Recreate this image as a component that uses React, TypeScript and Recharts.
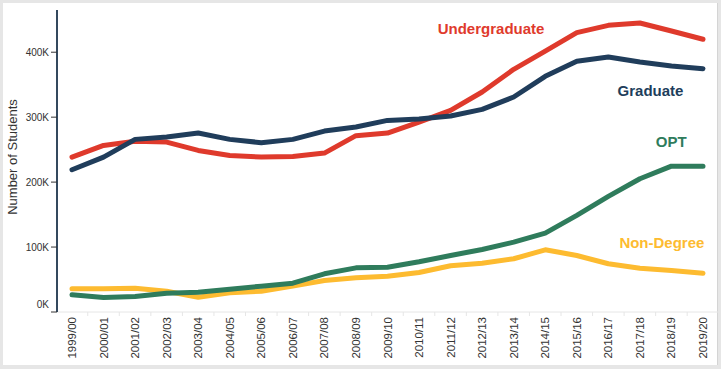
import { LineChart, Line, XAxis, YAxis } from "recharts";

const years = [
  "1999/00", "2000/01", "2001/02", "2002/03", "2003/04", "2004/05", "2005/06",
  "2006/07", "2007/08", "2008/09", "2009/10", "2010/11", "2011/12", "2012/13",
  "2013/14", "2014/15", "2015/16", "2016/17", "2017/18", "2018/19", "2019/20",
];

// values in students
const undergraduate = [
  238500, 256500, 263000, 261600, 248800, 241000, 238500, 239600, 244700, 271500,
  275500, 292400, 310500, 338700, 373700, 401800, 430200, 441400, 445000, 432700, 419900,
];
const graduate = [
  219000, 238500, 265800, 269300, 275500, 265800, 260700, 265800, 278600, 284800,
  295000, 297000, 301700, 312000, 331000, 362900, 386000, 392700, 385000, 378700, 374700,
];
const opt = [
  26500, 22300, 23900, 29000, 30500, 35100, 39800, 44400, 58800, 68000,
  69000, 77300, 87000, 96300, 107600, 121400, 148700, 178000, 205200, 224600, 224600,
];
const nonDegree = [
  35700, 35700, 36700, 32000, 22800, 29600, 32000, 39800, 48500, 52700,
  55200, 60900, 71200, 75200, 82000, 95800, 87000, 74300, 67500, 64000, 59800,
];

const yTicks = [0, 100000, 200000, 300000, 400000];

const data = years.map((year, i) => ({
  year,
  undergraduate: undergraduate[i],
  graduate: graduate[i],
  opt: opt[i],
  nonDegree: nonDegree[i],
}));

const FONT = "'Liberation Sans', Arial, sans-serif";
const RED = "#df3a2c";
const NAVY = "#203d5b";
const GREEN = "#2f7c5c";
const YELLOW = "#fdbb30";

const HALF_STEP = 15.8;

function XTick({ x, y, payload, index }: any) {
  return (
    <g>
      {index > 0 && (
        <line
          x1={x - HALF_STEP}
          x2={x - HALF_STEP}
          y1={y - 4}
          y2={y}
          stroke="#e6e6e6"
        />
      )}
      <text
        x={x}
        y={y + 1}
        transform={`rotate(-90 ${x} ${y + 1})`}
        textAnchor="end"
        dominantBaseline="central"
        fontSize={11.5}
        fontFamily={FONT}
        fill="#333"
      >
        {payload.value}
      </text>
    </g>
  );
}

function YTick({ x, y, payload }: any) {
  return (
    <text
      x={x}
      y={payload.value === 0 ? y - 8 : y}
      textAnchor="end"
      dominantBaseline="central"
      fontSize={10}
      fontFamily={FONT}
      fill="#333"
    >
      {`${payload.value / 1000}K`}
    </text>
  );
}

function endLabel(text: string, color: string, dx: number, dy: number) {
  return (props: any) => {
    if (props.index !== years.length - 1) return null;
    return (
      <text
        x={props.x + dx}
        y={props.y + dy}
        textAnchor="end"
        fontSize={15}
        fontWeight="bold"
        fontFamily={FONT}
        fill={color}
      >
        {text}
      </text>
    );
  };
}

function YLabel({ viewBox }: any) {
  const cx = viewBox.x + 12;
  const cy = viewBox.y + viewBox.height / 2 - 4;
  return (
    <text
      x={cx}
      y={cy}
      transform={`rotate(-90 ${cx} ${cy})`}
      textAnchor="middle"
      dominantBaseline="central"
      fontSize={13}
      fontFamily={FONT}
      fill="#333"
    >
      Number of Students
    </text>
  );
}

export default function App() {
  return (
    <div
      style={{
        position: "absolute",
        left: 0,
        top: 0,
        width: 721,
        height: 369,
        background: "#e6e6e6",
      }}
    >
      <div
        style={{
          position: "absolute",
          left: 3,
          top: 3,
          width: 715,
          height: 362,
          background: "#fff",
          borderRight: "1px solid #d4d4d4",
          boxSizing: "border-box",
        }}
      />
      <div style={{ position: "absolute", left: 0, top: 0 }}>
        <LineChart
          width={721}
          height={369}
          data={data}
          margin={{ top: 10, right: 2, left: 0, bottom: 0 }}
        >
          <XAxis
            dataKey="year"
            interval={0}
            height={57}
            padding={{ left: 15, right: 16 }}
            axisLine={{ stroke: "#e6e6e6" }}
            tickLine={false}
            tickSize={4}
            tickMargin={0}
            tick={<XTick />}
          />
          <YAxis
            type="number"
            domain={[0, 465000]}
            ticks={yTicks}
            width={57}
            axisLine={{ stroke: "#34495e", strokeWidth: 2 }}
            tickLine={{ stroke: "#333" }}
            tickSize={6}
            tickMargin={2}
            tick={<YTick />}
            label={<YLabel />}
          />
          <Line
            dataKey="nonDegree"
            stroke={YELLOW}
            strokeWidth={5}
            strokeLinecap="round"
            strokeLinejoin="round"
            dot={false}
            isAnimationActive={false}
            label={endLabel("Non-Degree", YELLOW, 1.4, -25.4)}
          />
          <Line
            dataKey="opt"
            stroke={GREEN}
            strokeWidth={5}
            strokeLinecap="round"
            strokeLinejoin="round"
            dot={false}
            isAnimationActive={false}
            label={endLabel("OPT", GREEN, -16.3, -19)}
          />
          <Line
            dataKey="undergraduate"
            stroke={RED}
            strokeWidth={5}
            strokeLinecap="round"
            strokeLinejoin="round"
            dot={false}
            isAnimationActive={false}
            label={endLabel("Undergraduate", RED, -158.6, -5.7)}
          />
          <Line
            dataKey="graduate"
            stroke={NAVY}
            strokeWidth={5}
            strokeLinecap="round"
            strokeLinejoin="round"
            dot={false}
            isAnimationActive={false}
            label={endLabel("Graduate", NAVY, -19.6, 27.7)}
          />
        </LineChart>
      </div>
    </div>
  );
}
